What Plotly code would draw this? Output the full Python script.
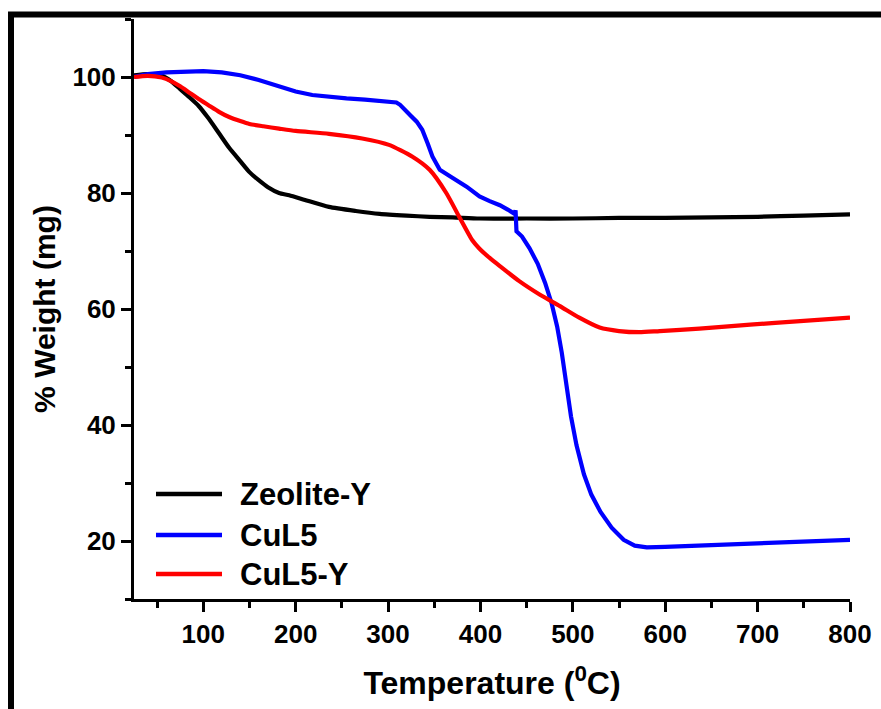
import plotly.graph_objects as go

# ---------------- data ----------------
series_names = ["Zeolite-Y", "CuL5", "CuL5-Y"]
series_colors = ["#000000", "#0000ff", "#ff0000"]

zeolite_T = [25, 40, 55, 65, 75, 85, 95, 105, 117, 128, 140, 150, 160, 170, 182, 193,
             210, 236, 265, 291, 320, 345, 370, 399, 450, 500, 550, 600, 650, 700, 750, 800]
zeolite_W = [100.3, 100.5, 100.2, 99.3, 97.9, 96.5, 95.0, 93.0, 90.3, 87.8, 85.5, 83.6, 82.2, 81.0, 80.0, 79.6,
             78.8, 77.6, 76.9, 76.4, 76.1, 75.9, 75.8, 75.6, 75.6, 75.6, 75.7, 75.7, 75.8, 75.9, 76.1, 76.3]

cul5_T = [25, 40, 60, 80, 100, 120, 140, 160, 182, 200, 218, 240, 255, 275, 291, 309, 313, 318, 324, 331,
          337, 343, 348, 356, 363, 370, 385, 399, 410, 421, 430, 437, 438, 439, 445, 453, 462, 470, 477,
          483, 488, 493, 498, 504, 512, 520, 530, 542, 555, 567, 580, 600, 650, 700, 750, 800]
cul5_W = [100.0, 100.5, 100.8, 100.9, 101.0, 100.8, 100.3, 99.5, 98.3, 97.5, 96.9, 96.5, 96.3, 96.1, 95.9,
          95.6, 95.2, 94.3, 93.4, 92.3, 90.9, 88.5, 86.3, 84.0, 83.2, 82.6, 81.1, 79.4, 78.6, 77.9, 77.1,
          76.4, 77.0, 73.4, 72.5, 70.5, 67.8, 64.5, 61.0, 57.0, 52.5, 47.0, 41.5, 36.5, 31.5, 28.0, 25.0,
          22.3, 20.2, 19.2, 18.9, 19.0, 19.3, 19.6, 19.9, 20.2]

cul5y_T = [25, 40, 55, 65, 75, 85, 95, 106, 117, 128, 140, 150, 165, 182, 200, 236, 272, 301, 326, 345,
           363, 377, 391, 399, 410, 421, 442, 464, 486, 507, 529, 550, 572, 594, 637, 692, 746, 800]
cul5y_W = [100.0, 100.2, 99.9, 99.3, 98.4, 97.3, 96.2, 95.1, 94.0, 93.1, 92.4, 91.9, 91.5, 91.1, 90.7,
           90.2, 89.4, 88.3, 86.3, 84.0, 80.0, 75.9, 71.9, 70.4, 68.8, 67.4, 64.8, 62.5, 60.5, 58.5, 56.8,
           56.2, 56.0, 56.2, 56.6, 57.3, 57.9, 58.5]

x_ticks = [100, 200, 300, 400, 500, 600, 700, 800]
y_ticks = [20, 40, 60, 80, 100]
x_range = [25, 800]
y_range = [10, 110]
x_title = "Temperature (<sup>0</sup>C)"
y_title = "% Weight (mg)"

# ---------------- figure ----------------
FONT = "Arial, 'Liberation Sans', Helvetica, sans-serif"
fig = go.Figure()
xs = [zeolite_T, cul5_T, cul5y_T]
ys = [zeolite_W, cul5_W, cul5y_W]
shapes_line = ["spline", "linear", "spline"]
for name, color, x, y, shp in zip(series_names, series_colors, xs, ys, shapes_line):
    line = dict(color=color, width=4.2, shape=shp)
    if shp == "spline":
        line["smoothing"] = 0.6
    fig.add_trace(go.Scatter(x=x, y=y, mode="lines", name=name, line=line, showlegend=False))

axis_common = dict(
    showgrid=False, zeroline=False, showline=True, linecolor="black", linewidth=3,
    ticks="outside", ticklen=10, tickwidth=3, tickcolor="black",
    tickfont=dict(family=FONT, size=26, color="black", weight="bold"),
    minor=dict(ticks="outside", ticklen=6, tickwidth=3, tickcolor="black"),
)
fig.update_xaxes(range=x_range, tickvals=x_ticks, minor_dtick=50, minor_tick0=0,
                 title=dict(text=x_title, font=dict(family=FONT, size=32, color="black", weight="bold"),
                            standoff=24),
                 **axis_common)
fig.update_yaxes(range=y_range, tickvals=y_ticks, minor_dtick=10, minor_tick0=0,
                 title=dict(text=y_title, font=dict(family=FONT, size=30, color="black", weight="bold"),
                            standoff=8),
                 **axis_common)

L, R, T, B = 134, 31, 19, 110
W, H = 881, 709
pw, ph = W - L - R, H - T - B


def px_x(p):
    return (p - L) / pw


def px_y(p):
    return (H - B - p) / ph


shapes = []
# outer frame (left and top edges of the picture frame)
shapes.append(dict(type="line", xref="paper", yref="paper", x0=px_x(11), x1=px_x(11),
                   y0=px_y(14), y1=px_y(720), line=dict(color="black", width=6)))
shapes.append(dict(type="line", xref="paper", yref="paper", x0=px_x(8), x1=px_x(890),
                   y0=px_y(14.5), y1=px_y(14.5), line=dict(color="black", width=6)))

# legend (manual, long line samples as in the reference)
leg_y = [494, 535, 574]
annotations = []
for name, color, yy in zip(series_names, series_colors, leg_y):
    shapes.append(dict(type="line", xref="paper", yref="paper", x0=px_x(156), x1=px_x(222),
                       y0=px_y(yy), y1=px_y(yy), line=dict(color=color, width=4.5)))
    annotations.append(dict(xref="paper", yref="paper", x=px_x(238), y=px_y(yy), text=name,
                            showarrow=False, xanchor="left", yanchor="middle",
                            font=dict(family=FONT, size=31, color="black", weight="bold")))

fig.update_layout(
    width=W, height=H, margin=dict(l=L, r=R, t=T, b=B, autoexpand=False),
    paper_bgcolor="white", plot_bgcolor="white",
    shapes=shapes, annotations=annotations, showlegend=False,
)

fig.write_html("out.html")
